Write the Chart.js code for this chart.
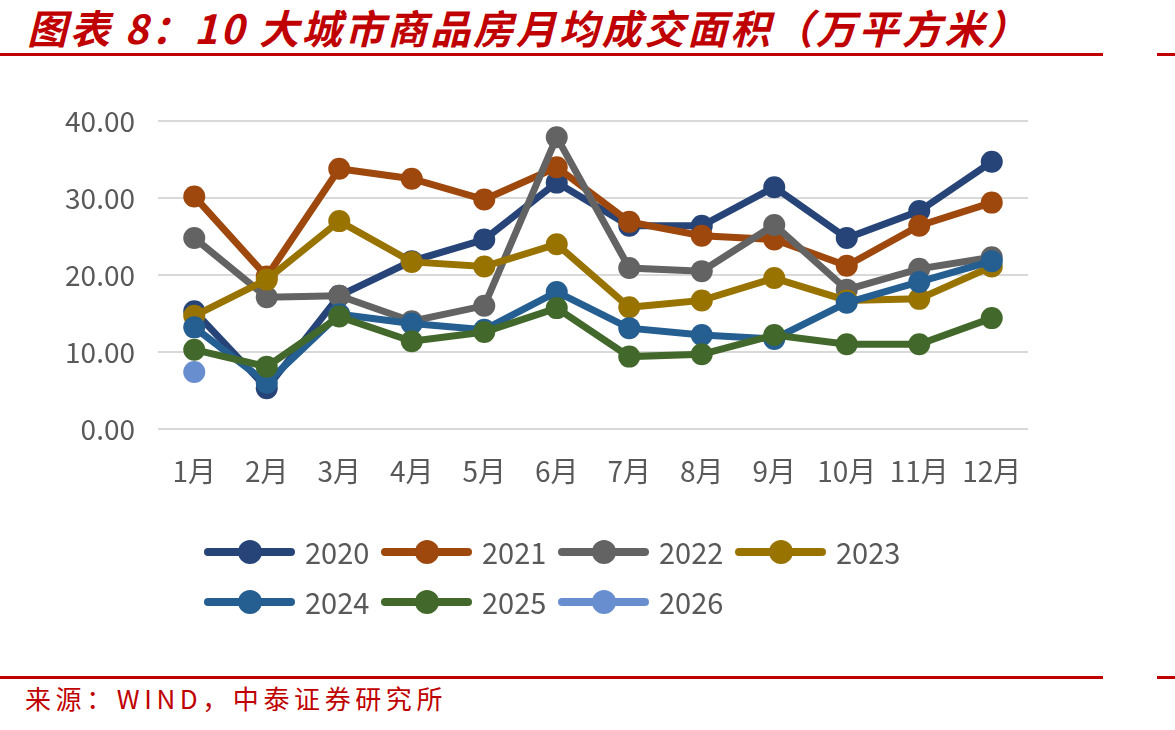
<!DOCTYPE html>
<html>
<head>
<meta charset="utf-8">
<script src="https://cdn.jsdelivr.net/npm/chart.js@4"></script>
<style>
  html, body { margin: 0; padding: 0; background: #fff; }
  body { width: 1175px; height: 730px; position: relative; overflow: hidden; }
  #title {
    position: absolute; left: 27px; top: 3px; white-space: nowrap;
    font-family: "Noto Sans CJK SC", sans-serif; font-weight: bold; font-style: italic;
    font-size: 40px; line-height: 48px; color: #C00000;
  }
  .rule { position: absolute; height: 3px; background: #C00000; }
  #source {
    position: absolute; left: 25px; top: 681px; white-space: nowrap;
    font-family: "Noto Sans CJK SC", sans-serif; font-size: 26px; line-height: 34px; color: #C00000;
  }
  #wrap { position: absolute; left: 0; top: 60px; width: 1175px; height: 610px; }
</style>
</head>
<body>
<span id="title">图表 8：10 大城市商品房月均成交面积（万平方米）</span>
<div class="rule" style="left:0;top:53px;width:1103px"></div>
<div class="rule" style="left:1157px;top:53px;width:18px"></div>
<div id="wrap"><canvas id="chart"></canvas></div>
<div class="rule" style="left:0;top:676px;width:1103px"></div>
<div class="rule" style="left:1157px;top:676px;width:18px"></div>
<span id="source">来源：WIND，中泰证券研究所</span>

<script>
// stretch the heading texts to the widths they take in the report
function fitWidth(id, target) {
  const el = document.getElementById(id);
  const n = el.textContent.length;
  const w = el.getBoundingClientRect().width;
  el.style.letterSpacing = ((target - w) / n) + 'px';
}
fitWidth('title', 1003);
fitWidth('source', 422);

const months = ['1月', '2月', '3月', '4月', '5月', '6月', '7月', '8月', '9月', '10月', '11月', '12月'];
const years = ['2020', '2021', '2022', '2023', '2024', '2025', '2026'];
const colors = ['#264478', '#9E480E', '#636363', '#997300', '#255E91', '#43682B', '#698ED0'];

const s2020 = [15.3, 5.3, 17.3, 21.8, 24.6, 32.0, 26.4, 26.4, 31.4, 24.8, 28.3, 34.7];
const s2021 = [30.2, 19.8, 33.8, 32.5, 29.8, 34.0, 26.9, 25.1, 24.6, 21.2, 26.4, 29.4];
const s2022 = [24.8, 17.1, 17.3, 14.0, 16.0, 37.9, 20.9, 20.5, 26.5, 18.1, 20.8, 22.3];
const s2023 = [14.7, 19.4, 27.0, 21.7, 21.1, 24.0, 15.8, 16.7, 19.6, 16.7, 16.9, 21.1];
const s2024 = [13.2, 6.0, 14.9, 13.7, 12.9, 17.8, 13.1, 12.2, 11.7, 16.4, 19.1, 21.8];
const s2025 = [10.3, 8.1, 14.6, 11.4, 12.6, 15.7, 9.4, 9.7, 12.2, 11.0, 11.0, 14.4];
const s2026 = [7.4, null, null, null, null, null, null, null, null, null, null, null];
const series = [s2020, s2021, s2022, s2023, s2024, s2025, s2026];

const FONT = '"Noto Sans CJK SC", "Noto Sans", sans-serif';

// legend: line with a dot in the middle, two rows of four
const yearLegend = {
  id: 'yearLegend',
  afterDraw(chart) {
    const ctx = chart.ctx;
    ctx.save();
    ctx.font = '29px ' + FONT;
    ctx.textBaseline = 'middle';
    chart.data.datasets.forEach((ds, i) => {
      const x = 204 + (i % 4) * 177;
      const y = 492 + Math.floor(i / 4) * 50;
      ctx.strokeStyle = ds.borderColor;
      ctx.lineWidth = 8;
      ctx.lineCap = 'round';
      ctx.beginPath();
      ctx.moveTo(x + 4, y);
      ctx.lineTo(x + 87, y);
      ctx.stroke();
      ctx.fillStyle = ds.borderColor;
      ctx.beginPath();
      ctx.arc(x + 46, y, 12, 0, Math.PI * 2);
      ctx.fill();
      ctx.fillStyle = '#595959';
      ctx.fillText(ds.label, x + 101, y + 1);
    });
    ctx.restore();
  }
};

new Chart(document.getElementById('chart'), {
  type: 'line',
  data: {
    labels: months,
    datasets: series.map((data, i) => ({
      label: years[i],
      data: data,
      borderColor: colors[i],
      backgroundColor: colors[i],
      borderWidth: 7,
      pointRadius: 11,
      pointBorderWidth: 0,
      pointHoverRadius: 11,
      order: -i
    }))
  },
  options: {
    responsive: true,
    maintainAspectRatio: false,
    animation: false,
    layout: { padding: { left: 0, right: 147, top: 61, bottom: 181 } },
    plugins: { legend: { display: false }, tooltip: { enabled: false } },
    scales: {
      x: {
        offset: true,
        grid: { display: false },
        border: { display: false },
        ticks: { color: '#595959', font: { family: FONT, size: 28 }, padding: 18, maxRotation: 0 },
        afterFit(s) { s.height = 60; }
      },
      y: {
        min: 0, max: 40,
        grid: { color: '#D9D9D9', lineWidth: 2, drawTicks: false },
        border: { display: false },
        ticks: {
          stepSize: 10, color: '#595959', padding: 23,
          font: { family: FONT, size: 28 },
          callback: v => v.toFixed(2)
        },
        afterFit(s) { s.width = 158; }
      }
    }
  },
  plugins: [yearLegend]
});
</script>
</body>
</html>
